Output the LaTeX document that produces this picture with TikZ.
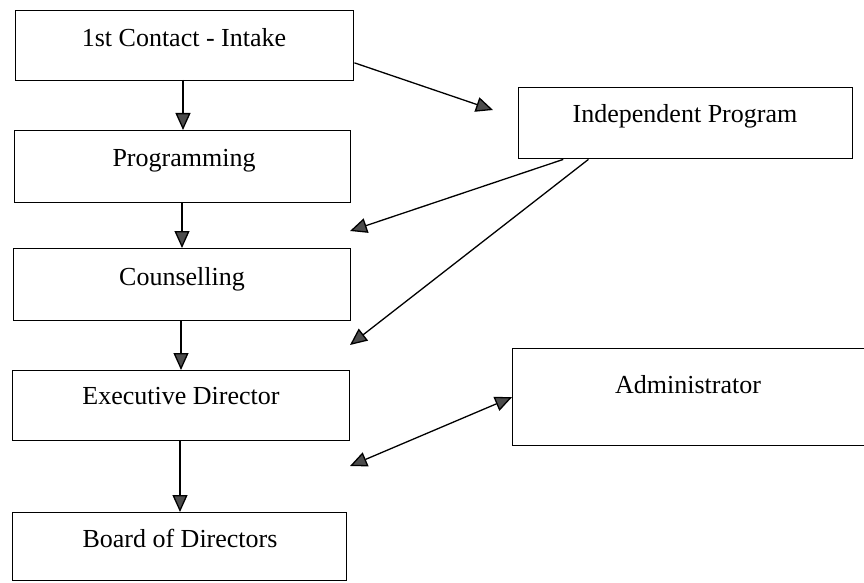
\documentclass[tikz,border=0pt]{standalone}
\usepackage{fontspec}
\setmainfont{Liberation Serif}
\usetikzlibrary{arrows.meta,calc}
\begin{document}
\begin{tikzpicture}[x=1pt,y=-1pt,
  box/.style={draw=black,line width=1.4pt,rectangle,inner sep=0pt,anchor=north west},
  lbl/.style={anchor=base,inner sep=0pt,font=\fontsize{26}{30}\selectfont},
  arr/.style={line width=1.3pt,-{Triangle[length=17pt,width=15pt,fill=black!70]}},
  darr/.style={line width=1.3pt,{Triangle[length=17pt,width=15pt,fill=black!70]}-{Triangle[length=17pt,width=15pt,fill=black!70]}}]
\useasboundingbox (0,0) rectangle (864,583);
\fill[white] (0,0) rectangle (864,583);
% boxes
\node[box,minimum width=338pt,minimum height=70pt] (b1) at (15,10) {};
\node[box,minimum width=336pt,minimum height=72pt] (b2) at (14,130) {};
\node[box,minimum width=337pt,minimum height=72pt] (b3) at (13,248) {};
\node[box,minimum width=337pt,minimum height=70pt] (b4) at (12,370) {};
\node[box,minimum width=334pt,minimum height=68pt] (b5) at (12,512) {};
\node[box,minimum width=334pt,minimum height=71pt] (ip) at (518,87) {};
\node[box,minimum width=370pt,minimum height=97pt] (ad) at (512,348) {};
% labels
\node[lbl] (t1) at (184,47) {1st Contact - Intake};
\node[lbl] (t2) at (184,166) {Programming};
\node[lbl] (t3) at (182,285) {Counselling};
\node[lbl] (t4) at (181,404) {Executive Director};
\node[lbl] (t5) at (180,547) {Board of Directors};
\node[lbl] (t6) at (685,122) {Independent Program};
\node[lbl] (t7) at (688,393) {Administrator};
% free ends
\coordinate (c1) at (493,110);
\coordinate (c2) at (350,231);
\coordinate (c3) at (350,345);
\coordinate (c4) at (350,466);
% vertical arrows
\draw[arr] (183,80) coordinate (v1) -- (v1 |- b2.north);
\draw[arr] (182,202) coordinate (v2) -- (v2 |- b3.north);
\draw[arr] (181,320) coordinate (v3) -- (v3 |- b4.north);
\draw[arr] (180,440) coordinate (v4) -- (v4 |- b5.north);
% diagonal arrows
\draw[arr] ($(b1.north east)!0.74!(b1.south east)$) -- (c1);
\draw[arr] ($(ip.south west)!0.135!(ip.south east)$) -- (c2);
\draw[arr] ($(ip.south west)!0.21!(ip.south east)$) -- (c3);
\draw[darr] (c4) -- (ad.west);
\end{tikzpicture}
\end{document}
